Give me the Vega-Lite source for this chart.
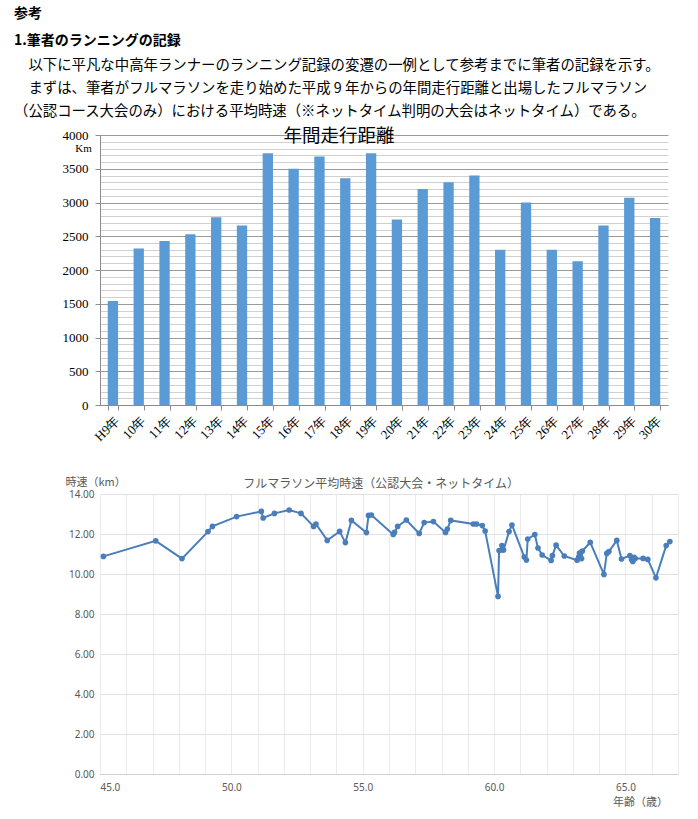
{
  "$schema": "https://vega.github.io/schema/vega-lite/v6.json",
  "background": "white",
  "padding": {"left": 14, "top": 7, "right": 5, "bottom": 5},
  "config": {"view": {"stroke": null}, "font": "Noto Sans CJK JP"},
  "title": {
    "text": ["参考", "1.筆者のランニングの記録"],
    "subtitle": [
      "\u200b\u3000以下に平凡な中高年ランナーのランニング記録の変遷の一例として参考までに筆者の記録を示す。",
      "\u200b\u3000まずは、筆者がフルマラソンを走り始めた平成 9 年からの年間走行距離と出場したフルマラソン",
      "（公認コース大会のみ）における平均時速（※ネットタイム判明の大会はネットタイム）である。"
    ],
    "anchor": "start",
    "frame": "bounds",
    "dx": -48,
    "font": "Noto Sans CJK JP",
    "fontSize": 14,
    "fontWeight": "bold",
    "lineHeight": 27,
    "color": "black",
    "subtitleFont": "Noto Sans CJK JP",
    "subtitleFontSize": 14.4,
    "subtitleLineHeight": 23,
    "subtitleColor": "black",
    "subtitlePadding": 11,
    "offset": 8
  },
  "spacing": 32,
  "vconcat": [
    {
      "width": 568,
      "height": 270,
      "title": {"text": "年間走行距離", "font": "Noto Sans CJK JP", "fontSize": 18.5, "fontWeight": "normal", "color": "black", "dx": -45, "offset": -16},
      "data": {"values": [
        {"year": "H9年", "km": 1540},
        {"year": "10年", "km": 2320},
        {"year": "11年", "km": 2430},
        {"year": "12年", "km": 2530},
        {"year": "13年", "km": 2780},
        {"year": "14年", "km": 2660},
        {"year": "15年", "km": 3730},
        {"year": "16年", "km": 3500},
        {"year": "17年", "km": 3680},
        {"year": "18年", "km": 3360},
        {"year": "19年", "km": 3730},
        {"year": "20年", "km": 2750},
        {"year": "21年", "km": 3200},
        {"year": "22年", "km": 3300},
        {"year": "23年", "km": 3400},
        {"year": "24年", "km": 2300},
        {"year": "25年", "km": 3000},
        {"year": "26年", "km": 2300},
        {"year": "27年", "km": 2130},
        {"year": "28年", "km": 2660},
        {"year": "29年", "km": 3070},
        {"year": "30年", "km": 2770}
      ]},
      "mark": {"type": "bar", "color": "#5B9BD5"},
      "encoding": {
        "x": {
          "field": "year", "type": "nominal", "sort": null,
          "scale": {"paddingInner": 0.6, "paddingOuter": 0.3},
          "axis": {
            "title": null, "labelAngle": -45, "labelFont": "Liberation Serif", "labelFontSize": 13,
            "labelColor": "black", "labelPadding": 4, "tickBand": "extent", "tickSize": 5,
            "tickColor": "#8c8c8c", "domainColor": "#8c8c8c", "grid": false
          }
        },
        "y": {
          "field": "km", "type": "quantitative",
          "scale": {"domain": [0, 4000], "nice": false},
          "axis": {
            "values": [0,100,200,300,400,500,600,700,800,900,1000,1100,1200,1300,1400,1500,1600,1700,1800,1900,2000,2100,2200,2300,2400,2500,2600,2700,2800,2900,3000,3100,3200,3300,3400,3500,3600,3700,3800,3900,4000],
            "format": "d",
            "labelExpr": "datum.value % 500 === 0 ? datum.label : ''",
            "labelOverlap": false,
            "labelFont": "Liberation Serif", "labelFontSize": 13, "labelColor": "black", "labelPadding": 7,
            "tickSize": 5,
            "tickColor": {"condition": {"test": "datum.value % 500 === 0", "value": "#8c8c8c"}, "value": "transparent"},
            "gridColor": {"condition": {"test": "datum.value % 500 === 0", "value": "#9a9a9a"}, "value": "#d0d0d0"},
            "domainColor": "#8c8c8c",
            "title": "Km", "titleAngle": 0, "titleFont": "Liberation Serif", "titleFontSize": 11,
            "titleFontWeight": "normal", "titleColor": "black", "titleAlign": "center", "titleBaseline": "middle",
            "titleX": -17, "titleY": 13
          }
        }
      }
    },
    {
      "width": 578,
      "height": 280,
      "title": {"text": "フルマラソン平均時速（公認大会・ネットタイム）", "font": "Noto Sans CJK JP", "fontSize": 12, "fontWeight": "normal", "color": "#595959", "dx": -8, "offset": -15},
      "data": {"values": [
        {"age": 45.13, "speed": 10.88},
        {"age": 47.12, "speed": 11.66},
        {"age": 48.12, "speed": 10.77},
        {"age": 49.11, "speed": 12.12},
        {"age": 49.28, "speed": 12.38},
        {"age": 50.20, "speed": 12.87},
        {"age": 51.14, "speed": 13.13},
        {"age": 51.21, "speed": 12.80},
        {"age": 51.64, "speed": 13.03},
        {"age": 52.20, "speed": 13.20},
        {"age": 52.65, "speed": 13.03},
        {"age": 53.13, "speed": 12.38},
        {"age": 53.22, "speed": 12.50},
        {"age": 53.65, "speed": 11.68},
        {"age": 54.12, "speed": 12.13},
        {"age": 54.34, "speed": 11.57},
        {"age": 54.57, "speed": 12.68},
        {"age": 55.14, "speed": 12.07},
        {"age": 55.22, "speed": 12.93},
        {"age": 55.33, "speed": 12.95},
        {"age": 56.16, "speed": 11.98},
        {"age": 56.21, "speed": 12.08},
        {"age": 56.33, "speed": 12.38},
        {"age": 56.66, "speed": 12.70},
        {"age": 57.15, "speed": 12.03},
        {"age": 57.34, "speed": 12.57},
        {"age": 57.69, "speed": 12.62},
        {"age": 58.15, "speed": 12.08},
        {"age": 58.22, "speed": 12.25},
        {"age": 58.35, "speed": 12.68},
        {"age": 59.21, "speed": 12.50},
        {"age": 59.33, "speed": 12.50},
        {"age": 59.55, "speed": 12.42},
        {"age": 59.66, "speed": 12.15},
        {"age": 60.15, "speed": 8.88},
        {"age": 60.19, "speed": 11.17},
        {"age": 60.28, "speed": 11.20},
        {"age": 60.30, "speed": 11.42},
        {"age": 60.36, "speed": 11.20},
        {"age": 60.57, "speed": 12.12},
        {"age": 60.68, "speed": 12.45},
        {"age": 61.15, "speed": 10.85},
        {"age": 61.23, "speed": 10.70},
        {"age": 61.28, "speed": 11.75},
        {"age": 61.55, "speed": 11.97},
        {"age": 61.67, "speed": 11.30},
        {"age": 61.83, "speed": 10.95},
        {"age": 62.17, "speed": 10.68},
        {"age": 62.22, "speed": 10.92},
        {"age": 62.36, "speed": 11.44},
        {"age": 62.67, "speed": 10.90},
        {"age": 63.16, "speed": 10.69},
        {"age": 63.22, "speed": 10.85},
        {"age": 63.25, "speed": 11.05},
        {"age": 63.33, "speed": 10.77},
        {"age": 63.36, "speed": 11.15},
        {"age": 63.66, "speed": 11.58},
        {"age": 64.18, "speed": 9.98},
        {"age": 64.29, "speed": 11.03},
        {"age": 64.37, "speed": 11.12},
        {"age": 64.67, "speed": 11.68},
        {"age": 64.85, "speed": 10.75},
        {"age": 65.17, "speed": 10.92},
        {"age": 65.23, "speed": 10.73},
        {"age": 65.28, "speed": 10.63},
        {"age": 65.33, "speed": 10.83},
        {"age": 65.37, "speed": 10.77},
        {"age": 65.67, "speed": 10.78},
        {"age": 65.85, "speed": 10.73},
        {"age": 66.16, "speed": 9.81},
        {"age": 66.55, "speed": 11.42},
        {"age": 66.69, "speed": 11.62}
      ]},
      "mark": {"type": "line", "color": "#4A7EBB", "strokeWidth": 2, "point": {"filled": true, "size": 32, "color": "#4A7EBB", "opacity": 1}},
      "encoding": {
        "x": {
          "field": "age", "type": "quantitative",
          "scale": {"domain": [45, 67], "nice": false, "zero": false},
          "axis": {
            "values": [45,46,47,48,49,50,51,52,53,54,55,56,57,58,59,60,61,62,63,64,65,66,67],
            "format": ".1f",
            "labelExpr": "datum.value % 5 === 0 ? datum.label : ''",
            "labelOverlap": false,
            "labelFont": "Noto Sans", "labelFontSize": 10, "labelColor": "#595959", "labelPadding": 8,
            "ticks": false, "domainColor": "#d0d0d0",
            "gridColor": "#ebebeb",
            "title": "年齢（歳）", "titleFont": "Noto Sans CJK JP", "titleFontSize": 11, "titleFontWeight": "normal",
            "titleColor": "#595959", "titleAlign": "center", "titleBaseline": "middle", "titleX": 540, "titleY": 28
          }
        },
        "y": {
          "field": "speed", "type": "quantitative",
          "scale": {"domain": [0, 14], "nice": false},
          "axis": {
            "values": [0,2,4,6,8,10,12,14],
            "format": ".2f",
            "labelFont": "Noto Sans", "labelFontSize": 10, "labelColor": "#595959", "labelPadding": 6,
            "ticks": false, "domain": false, "gridColor": "#e0e0e0",
            "title": "時速（km）", "titleAngle": 0, "titleFont": "Noto Sans CJK JP", "titleFontSize": 11,
            "titleFontWeight": "normal", "titleColor": "#595959", "titleAlign": "left", "titleBaseline": "middle",
            "titleX": -35, "titleY": -12
          }
        },
        "order": {"field": "age", "type": "quantitative"}
      }
    }
  ]
}
